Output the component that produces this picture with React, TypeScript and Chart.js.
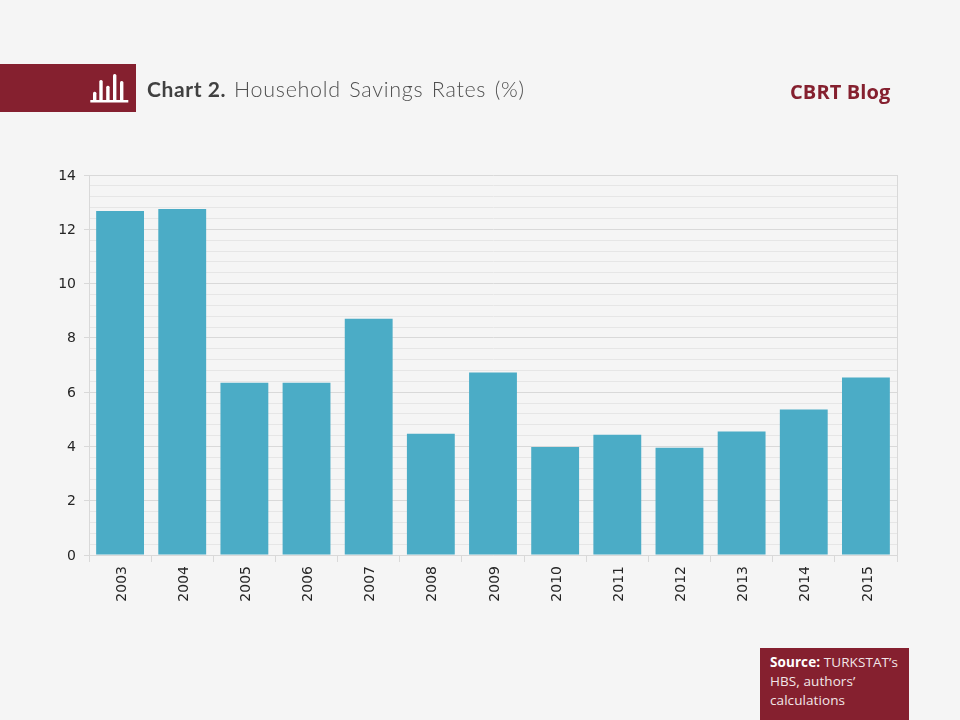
import React, { useEffect, useRef } from "react";
import { Chart, registerables } from "chart.js";

Chart.register(...registerables);

const years = ["2003","2004","2005","2006","2007","2008","2009","2010","2011","2012","2013","2014","2015"];
const savingsRates = [12.67, 12.75, 6.35, 6.35, 8.7, 4.47, 6.72, 3.98, 4.43, 3.95, 4.55, 5.36, 6.54];
const titleBold = "Chart 2.";
const titleRest = "Household Savings Rates (%)";
const brand = "CBRT Blog";

const RED = "#85202F";
const isMajor = (v: number) => Math.abs(v / 2 - Math.round(v / 2)) < 1e-6;

const frame = {
  id: "frame",
  beforeDatasetsDraw(c: any) {
    const { ctx, chartArea: a } = c;
    ctx.save();
    ctx.strokeStyle = "#d9d9d9";
    ctx.lineWidth = 1;
    ctx.beginPath();
    ctx.moveTo(a.right + 0.5, a.top);
    ctx.lineTo(a.right + 0.5, a.bottom);
    ctx.stroke();
    ctx.restore();
  },
};

export default function App() {
  const ref = useRef<HTMLCanvasElement>(null);
  useEffect(() => {
    const chart = new Chart(ref.current!, {
      type: "bar",
      data: {
        labels: years,
        datasets: [{ data: savingsRates, backgroundColor: "#4BACC6", barPercentage: 0.77, categoryPercentage: 1 }],
      },
      plugins: [frame],
      options: {
        animation: false,
        responsive: false,
        devicePixelRatio: 1,
        layout: { padding: { left: 0, top: 175, right: 63, bottom: 0 } },
        plugins: { legend: { display: false }, tooltip: { enabled: false }, title: { display: false } },
        scales: {
          x: {
            afterFit(s: any) { s.height = 165; },
            grid: { drawOnChartArea: false, color: "#d9d9d9", tickLength: 7, offset: true },
            border: { color: "#d9d9d9" },
            ticks: { color: "#262626", font: { family: "DejaVu Sans", size: 14 }, minRotation: 90, maxRotation: 90, padding: 4, labelOffset: 2 },
          },
          y: {
            min: 0,
            max: 14,
            afterFit(s: any) { s.width = 89; },
            afterBuildTicks(s: any) {
              s.ticks = Array.from({ length: 36 }, (_, i) => ({ value: Math.round(i * 4) / 10 }));
            },
            grid: {
              color: (c: any) => (isMajor(c.tick.value) ? "#d9d9d9" : "#e6e6e6"),
              tickColor: (c: any) => (isMajor(c.tick.value) ? "#d9d9d9" : "rgba(0,0,0,0)"),
              tickLength: 5,
            },
            border: { color: "#d9d9d9" },
            ticks: {
              autoSkip: false,
              color: "#262626",
              font: { family: "DejaVu Sans", size: 14 },
              padding: 8,
              labelOffset: 1,
              callback: (v: any) => (isMajor(Number(v)) ? String(v) : ""),
            },
          },
        },
      },
    } as any);
    return () => chart.destroy();
  }, []);

  return (
    <div style={{ position: "fixed", left: 0, top: 0, width: 960, height: 720, background: "#F5F5F5", overflow: "hidden" }}>
      <canvas ref={ref} width={960} height={720} style={{ position: "absolute", left: 0, top: 0, width: 960, height: 720 }} />
      <div style={{ position: "absolute", left: 0, top: 64, width: 136, height: 48, background: RED }} />
      <svg width={40} height={32} style={{ position: "absolute", left: 90, top: 72 }}>
        <g fill="#fff">
          <rect x={0.3} y={28} width={38} height={2.5} />
          <rect x={3} y={19.7} width={3.4} height={9} rx={1.5} />
          <rect x={9.3} y={8} width={3.4} height={21} rx={1.5} />
          <rect x={16.2} y={13.7} width={3.4} height={15} rx={1.5} />
          <rect x={23} y={2} width={3.4} height={27} rx={1.5} />
          <rect x={30} y={9} width={3.4} height={20} rx={1.5} />
        </g>
      </svg>
      <div style={{ position: "absolute", left: 147, top: 76, fontFamily: "Lato", fontWeight: 700, fontSize: 21, lineHeight: "26px", color: "#404040", whiteSpace: "nowrap", letterSpacing: 0.6 }}>{titleBold}</div>
      <div style={{ position: "absolute", left: 234, top: 76, fontFamily: "Lato", fontWeight: 300, fontSize: 21.5, lineHeight: "26px", color: "#505050", whiteSpace: "nowrap", wordSpacing: 2, letterSpacing: 0.7 }}>{titleRest}</div>
      <div style={{ position: "absolute", left: 790, top: 78, fontFamily: "Open Sans", fontWeight: 700, fontSize: 20, lineHeight: "27px", color: RED, whiteSpace: "nowrap", letterSpacing: 0.1 }}>{brand}</div>
      <div style={{ position: "absolute", left: 760, top: 648, width: 149, height: 72, background: RED }} />
      <div style={{ position: "absolute", left: 770, top: 652.5, fontFamily: "Open Sans", fontSize: 13.5, lineHeight: "19px", color: "#F2E6E8", whiteSpace: "nowrap", letterSpacing: 0.08 }}>
        <b style={{ color: "#fff" }}>Source:</b> TURKSTAT’s<br />HBS, authors’<br />calculations
      </div>
    </div>
  );
}
